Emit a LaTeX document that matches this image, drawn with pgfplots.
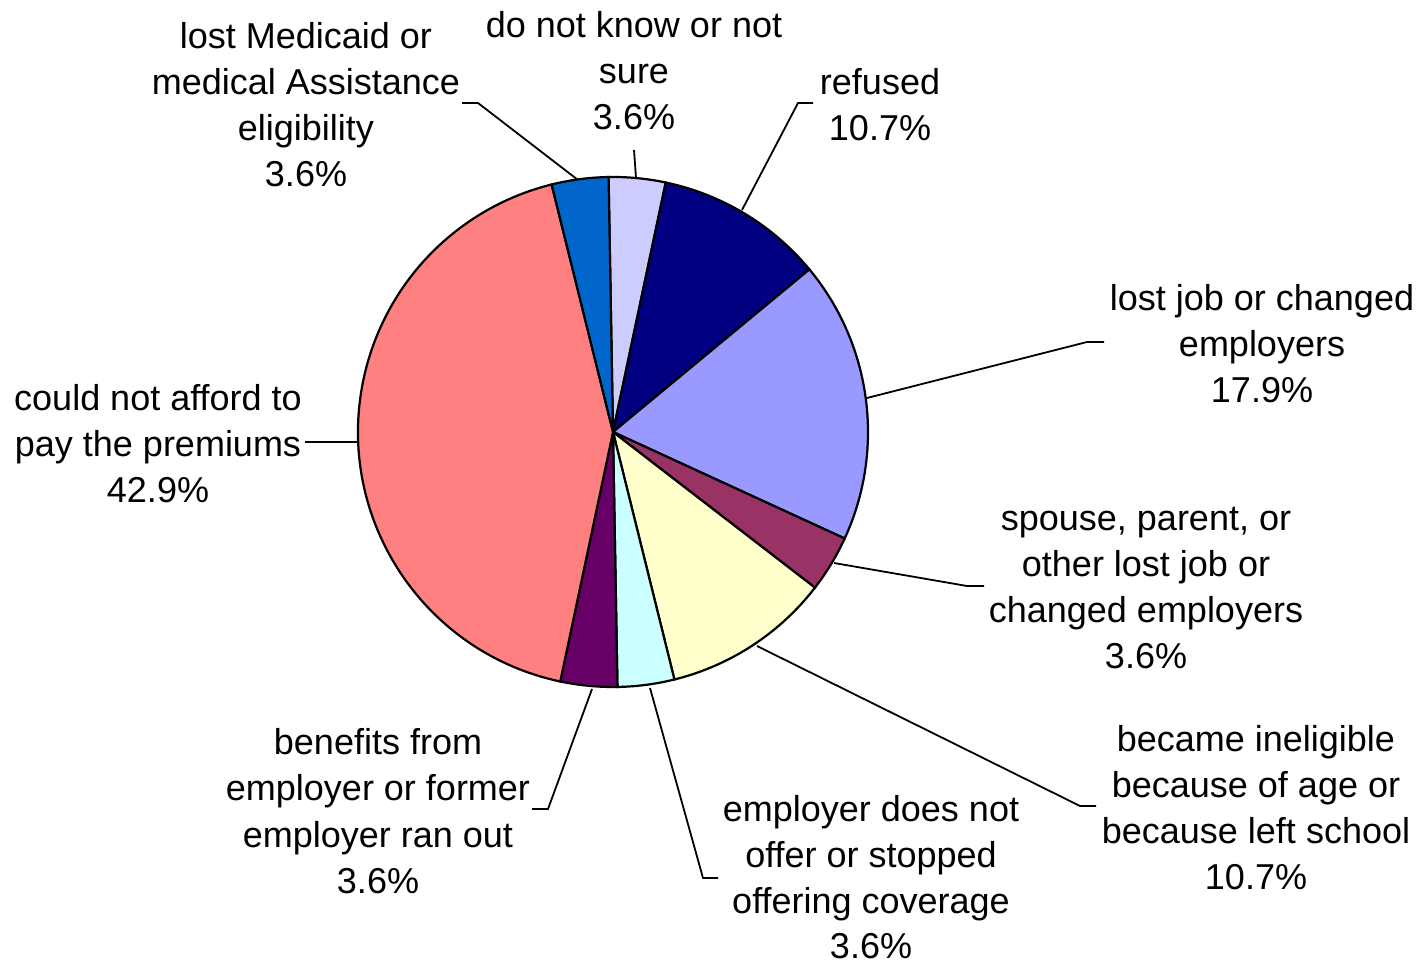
\documentclass[border=0pt]{standalone}
\usepackage{pgfplots}
\usepackage{pgfplotstable}
\pgfplotsset{compat=1.18}
\usepackage{fontspec}
\setmainfont{Liberation Sans}

\definecolor{cDK}{HTML}{CCCCFF}
\definecolor{cRef}{HTML}{000080}
\definecolor{cJob}{HTML}{9999FF}
\definecolor{cSp}{HTML}{993366}
\definecolor{cIne}{HTML}{FFFFCC}
\definecolor{cEmp}{HTML}{CCFFFF}
\definecolor{cBen}{HTML}{660066}
\definecolor{cAff}{HTML}{FF8080}
\definecolor{cMed}{HTML}{0066CC}

% share of respondents, clockwise from the top
\pgfplotstableread{
value color
3.6   cDK
10.7  cRef
17.9  cJob
3.6   cSp
10.7  cIne
3.6   cEmp
3.6   cBen
42.9  cAff
3.6   cMed
}\piedata

% sum of the shares, then one wedge command per row
\pgfplotstablegetrowsof{\piedata}
\pgfmathtruncatemacro\nrows{\pgfplotsretval-1}
\gdef\total{0}
\foreach \i in {0,...,\nrows}{%
  \pgfplotstablegetelem{\i}{value}\of\piedata
  \pgfmathsetmacro\t{\total+\pgfplotsretval}%
  \xdef\total{\t}}
\gdef\ang{91}
\gdef\wedges{}
\foreach \i in {0,...,\nrows}{%
  \pgfplotstablegetelem{\i}{value}\of\piedata
  \pgfmathsetmacro\b{\ang-\pgfplotsretval/\total*360}%
  \pgfplotstablegetelem{\i}{color}\of\piedata
  \xdef\wedges{\unexpanded\expandafter{\wedges}%
    \noexpand\filldraw[fill=\pgfplotsretval,draw=black,line width=1.1pt]
    (axis cs:613,532) -- ++(\ang:127.5pt)
    arc[start angle=\ang,end angle=\b,radius=127.5pt] -- cycle;}%
  \xdef\ang{\b}}

% one label line, baseline at (x, y) in picture pixels, y from the top
\newcommand\lbl[3]{\node[anchor=base,inner sep=0pt] at (axis cs:#1,{964-#2}) {#3};}

\begin{document}
\begin{tikzpicture}
\begin{axis}[
    scale only axis,
    width=709pt, height=482pt,
    xmin=0, xmax=1418, ymin=0, ymax=964,
    hide axis,
    clip=false,
    font=\fontsize{18}{23}\selectfont,
]
\path (axis cs:0,0) rectangle (axis cs:1418,964);
\wedges

\begin{scope}[line width=0.9pt]
\draw (axis cs:578,784) -- (axis cs:478,861) -- (axis cs:462,861);
\draw (axis cs:636,786) -- (axis cs:634,814);
\draw (axis cs:742,754) -- (axis cs:798,861) -- (axis cs:813,861);
\draw (axis cs:867,566) -- (axis cs:1087,622) -- (axis cs:1104,622);
\draw (axis cs:834,401) -- (axis cs:967,378) -- (axis cs:984,378);
\draw (axis cs:757,318) -- (axis cs:1080,158) -- (axis cs:1096,158);
\draw (axis cs:650,276) -- (axis cs:703,86) -- (axis cs:718,86);
\draw (axis cs:592,275) -- (axis cs:548,155) -- (axis cs:532,155);
\draw (axis cs:358,522) -- (axis cs:305,522);
\end{scope}

\lbl{306}{49}{lost Medicaid or}
\lbl{306}{95}{medical Assistance}
\lbl{306}{141}{eligibility}
\lbl{306}{187}{3.6\%}

\lbl{634}{38}{do not know or not}
\lbl{634}{84}{sure}
\lbl{634}{130}{3.6\%}

\lbl{880}{95}{refused}
\lbl{880}{141}{10.7\%}

\lbl{1262}{311}{lost job or changed}
\lbl{1262}{357}{employers}
\lbl{1262}{403}{17.9\%}

\lbl{1146}{531}{spouse, parent, or}
\lbl{1146}{577}{other lost job or}
\lbl{1146}{623}{changed employers}
\lbl{1146}{669}{3.6\%}

\lbl{1256}{751}{became ineligible}
\lbl{1256}{797}{because of age or}
\lbl{1256}{843}{because left school}
\lbl{1256}{889}{10.7\%}

\lbl{871}{821}{employer does not}
\lbl{871}{867}{offer or stopped}
\lbl{871}{913}{offering coverage}
\lbl{871}{958}{3.6\%}

\lbl{378}{755}{benefits from}
\lbl{378}{801}{employer or former}
\lbl{378}{847}{employer ran out}
\lbl{378}{893}{3.6\%}

\lbl{158}{411}{could not afford to}
\lbl{158}{457}{pay the premiums}
\lbl{158}{503}{42.9\%}
\end{axis}
\end{tikzpicture}
\end{document}
